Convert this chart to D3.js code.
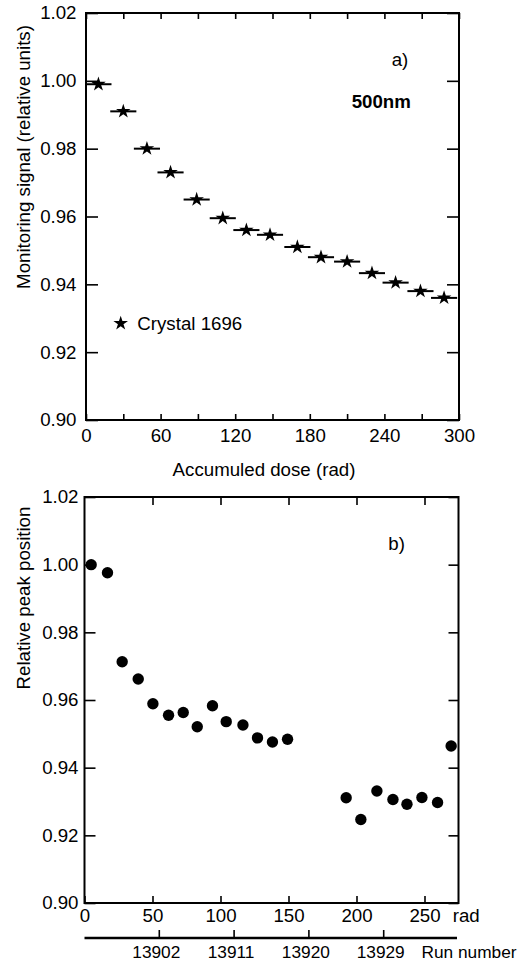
<!DOCTYPE html>
<html>
<head>
<meta charset="utf-8">
<script src="https://cdn.jsdelivr.net/npm/d3@7"></script>
<style>
  html, body { margin: 0; padding: 0; background: #fff; }
  svg { display: block; }
  text { font-family: "Liberation Sans", Arial, Helvetica, sans-serif; fill: #000; }
</style>
</head>
<body>
<svg id="chart" width="518" height="965"></svg>
<script>
// ---------- Data (panel a) ----------
const doseA = [10, 30, 49, 68, 89, 110, 129, 148, 170, 189, 210, 230, 249, 269, 288];
const signalA = [0.999, 0.991, 0.980, 0.973, 0.965, 0.9595, 0.956, 0.9546, 0.951, 0.948, 0.9467, 0.9433, 0.9405, 0.938, 0.936];
const doseErrA = 10.5;
const xTicksA = [0, 30, 60, 90, 120, 150, 180, 210, 240, 270, 300];
const yTicks = [0.90, 0.92, 0.94, 0.96, 0.98, 1.00, 1.02];

// ---------- Data (panel b) ----------
const doseB = [4.9, 16.9, 27.7, 39.5, 50.3, 61.8, 72.6, 82.9, 94.1, 104.2, 116.5, 127.2, 138.2, 149.3,
               192.4, 203.2, 215, 226.8, 237.1, 248.1, 259.6, 269.6];
const peakB = [1.000, 0.9976, 0.9713, 0.9662, 0.9589, 0.9555, 0.9563, 0.9521, 0.9583, 0.9536, 0.9526, 0.9488, 0.9476, 0.9484,
               0.9311, 0.9247, 0.9331, 0.9306, 0.9292, 0.9312, 0.9297, 0.9464];
const xTicksB = [0, 50, 100, 150, 200, 250];
const runTicks = [13902, 13911, 13920, 13929];

const svg = d3.select("#chart");
const FS = "18.7px";
const FS_RUN = "17.3px";

function frame(g, w, h) {
  g.append("rect").attr("x", 0).attr("y", 0).attr("width", w).attr("height", h)
    .attr("fill", "none").attr("stroke", "#000").attr("stroke-width", 2);
}
function styleAxis(sel) {
  sel.select(".domain").remove();
  sel.selectAll(".tick line").attr("stroke", "#000").attr("stroke-width", 1.6);
  sel.selectAll(".tick text").attr("font-size", FS).attr("font-family", null);
}

// ================= Panel a =================
{
  const L = 86, T = 13, R = 459, B = 420;
  const W = R - L, H = B - T;
  const g = svg.append("g").attr("transform", `translate(${L},${T})`);
  const x = d3.scaleLinear().domain([0, 300]).range([0, W]);
  const y = d3.scaleLinear().domain([0.90, 1.02]).range([H, 0]);

  g.append("g").attr("transform", `translate(0,${H})`)
    .call(d3.axisBottom(x).tickValues(xTicksA).tickSize(-6).tickPadding(8.4)
      .tickFormat(d => d % 60 === 0 ? d : ""))
    .call(styleAxis);
  g.append("g")
    .call(d3.axisTop(x).tickValues(xTicksA).tickSize(-6).tickFormat(""))
    .call(styleAxis);
  g.append("g")
    .call(d3.axisLeft(y).tickValues(yTicks).tickSize(-12).tickPadding(9.5).tickFormat(d3.format(".2f")))
    .call(styleAxis);
  g.append("g").attr("transform", `translate(${W},0)`)
    .call(d3.axisRight(y).tickValues(yTicks).tickSize(-12).tickFormat(""))
    .call(styleAxis);
  frame(g, W, H);

  const pts = doseA.map((d, i) => ({ d, v: signalA[i] }));
  g.selectAll("line.err").data(pts).enter().append("line").attr("class", "err")
    .attr("x1", p => x(Math.max(0, p.d - doseErrA))).attr("x2", p => x(p.d + doseErrA))
    .attr("y1", p => y(p.v)).attr("y2", p => y(p.v))
    .attr("stroke", "#000").attr("stroke-width", 2);
  const star = d3.symbol().type(d3.symbolStar).size(66);
  g.selectAll("path.star").data(pts).enter().append("path").attr("class", "star")
    .attr("d", star).attr("transform", p => `translate(${x(p.d)},${y(p.v)})`).attr("fill", "#000");

  // legend
  svg.append("path").attr("d", star).attr("transform", "translate(120.7,323.3)").attr("fill", "#000");
  svg.append("text").attr("x", 137.3).attr("y", 330).attr("font-size", FS).text("Crystal 1696");

  svg.append("text").attr("x", 391.7).attr("y", 66).attr("font-size", FS).text("a)");
  svg.append("text").attr("x", 351.7).attr("y", 107.7).attr("font-size", FS).attr("font-weight", "bold").text("500nm");

  svg.append("text").attr("x", 264).attr("y", 476).attr("font-size", FS).attr("text-anchor", "middle")
    .text("Accumuled dose (rad)");
  svg.append("text").attr("transform", "translate(30,157) rotate(-90)").attr("font-size", FS)
    .attr("text-anchor", "middle").text("Monitoring signal (relative units)");
}

// ================= Panel b =================
{
  const L = 84.5, T = 497, R = 458.5, B = 903;
  const W = R - L, H = B - T;
  const g = svg.append("g").attr("transform", `translate(${L},${T})`);
  const x = d3.scaleLinear().domain([0, 275]).range([0, W]);
  const y = d3.scaleLinear().domain([0.90, 1.02]).range([H, 0]);

  g.append("g").attr("transform", `translate(0,${H})`)
    .call(d3.axisBottom(x).tickValues(xTicksB).tickSize(-7).tickPadding(5.4).tickFormat(d3.format("d")))
    .call(styleAxis);
  g.append("g")
    .call(d3.axisTop(x).tickValues(xTicksB.filter(d => d > 0)).tickSize(-8).tickFormat(""))
    .call(styleAxis);
  g.append("g")
    .call(d3.axisLeft(y).tickValues(yTicks).tickSize(-11).tickPadding(6).tickFormat(d3.format(".2f")))
    .call(styleAxis);
  g.append("g").attr("transform", `translate(${W},0)`)
    .call(d3.axisRight(y).tickValues(yTicks).tickSize(-10).tickFormat(""))
    .call(styleAxis);
  frame(g, W, H);

  const pts = doseB.map((d, i) => ({ d, v: peakB[i] }));
  g.selectAll("circle.pt").data(pts).enter().append("circle").attr("class", "pt")
    .attr("cx", p => x(p.d)).attr("cy", p => y(p.v)).attr("r", 5.7).attr("fill", "#000");

  svg.append("text").attr("x", 388.3).attr("y", 550).attr("font-size", FS).text("b)");
  svg.append("text").attr("x", 452.7).attr("y", 921.7).attr("font-size", FS).text("rad");
  svg.append("text").attr("transform", "translate(30,598) rotate(-90)").attr("font-size", FS)
    .attr("text-anchor", "middle").text("Relative peak position");

  // run-number axis
  const run = d3.scaleLinear().domain([13893, 13938]).range([0, W]);
  const ga = svg.append("g").attr("transform", `translate(${L},938)`);
  ga.append("line").attr("x1", 0).attr("x2", W - 1.5).attr("y1", 0).attr("y2", 0)
    .attr("stroke", "#000").attr("stroke-width", 2.5);
  ga.selectAll("line.rt").data(runTicks).enter().append("line").attr("class", "rt")
    .attr("x1", d => run(d)).attr("x2", d => run(d)).attr("y1", 0).attr("y2", -8)
    .attr("stroke", "#000").attr("stroke-width", 1.6);
  ga.selectAll("text.rl").data(runTicks).enter().append("text").attr("class", "rl")
    .attr("x", d => run(d) - 3).attr("y", 20.3).attr("font-size", FS_RUN).attr("text-anchor", "middle")
    .text(d => d);
  svg.append("text").attr("x", 421.5).attr("y", 958.3).attr("font-size", FS_RUN).text("Run number");
}
</script>
</body>
</html>
